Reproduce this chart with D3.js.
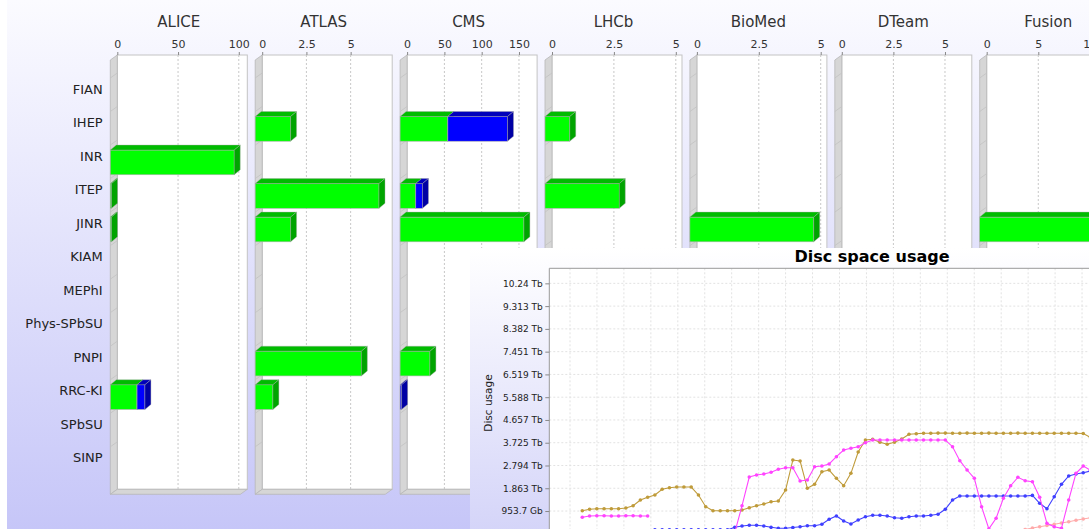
<!DOCTYPE html>
<html><head><meta charset="utf-8">
<script src="https://cdn.jsdelivr.net/npm/d3@7"></script>
<style>html,body{margin:0;padding:0;background:#fff;overflow:hidden}svg{display:block;font-family:"DejaVu Sans",sans-serif}</style>
</head><body><svg id="c" width="1089" height="529"></svg>
<script>
// ---------- Bar chart data ----------
const categories = ["FIAN","IHEP","INR","ITEP","JINR","KIAM","MEPhI","Phys-SPbSU","PNPI","RRC-KI","SPbSU","SINP"];
const vos = ["ALICE","ATLAS","CMS","LHCb","BioMed","DTeam","Fusion"];
const axisMax = [107, 7.35, 174.3, 5.25, 5.25, 6.3, 12.6];
const axisTicks = [[0,50,100],[0,2.5,5],[0,50,100,150],[0,2.5,5],[0,2.5,5],[0,2.5,5],[0,5,10]];
const aliceGreen  = [0,0,102,1,1,0,0,0,0,22,0,0];
const aliceBlue   = [0,0,0,0,0,0,0,0,0,6.5,0,0];
const atlasGreen  = [0,2,0,7,2,0,0,0,6,1,0,0];
const atlasBlue   = [0,0,0,0,0,0,0,0,0,0,0,0];
const cmsGreen    = [0,64,0,21,166,0,0,0,40,0,0,0];
const cmsBlue     = [0,80,0,9,0,0,0,0,0,2,0,0];
const lhcbGreen   = [0,1,0,3,0,0,0,0,0,0,0,0];
const lhcbBlue    = [0,0,0,0,0,0,0,0,0,0,0,0];
const biomedGreen = [0,0,0,0,5,0,0,0,0,0,0,0];
const biomedBlue  = [0,0,0,0,0,0,0,0,0,0,0,0];
const dteamGreen  = [0,0,0,0,0,0,0,0,0,0,0,0];
const dteamBlue   = [0,0,0,0,0,0,0,0,0,0,0,0];
const fusionGreen = [0,0,0,0,12,0,0,0,0,0,0,0];
const fusionBlue  = [0,0,0,0,0,0,0,0,0,0,0,0];
const greenByVo = [aliceGreen, atlasGreen, cmsGreen, lhcbGreen, biomedGreen, dteamGreen, fusionGreen];
const blueByVo  = [aliceBlue, atlasBlue, cmsBlue, lhcbBlue, biomedBlue, dteamBlue, fusionBlue];

// ---------- Line chart data (Tb) ----------
const lineTitle = "Disc space usage";
const yTickLabels = ["953.7 Gb","1.863 Tb","2.794 Tb","3.725 Tb","4.657 Tb","5.588 Tb","6.519 Tb","7.451 Tb","8.382 Tb","9.313 Tb","10.24 Tb"];
const goldSeries = [0.945,1.002,1.027,1.027,1.027,1.027,1.055,1.149,1.382,1.493,
  1.587,1.820,1.885,1.914,1.914,1.914,1.587,1.108,0.945,0.945,
  0.945,0.945,0.973,1.067,1.149,1.219,1.313,1.341,1.791,3.018,
  2.977,1.861,2.024,2.540,2.609,2.270,1.967,2.474,3.346,3.836,
  3.865,3.742,3.661,3.742,3.877,4.070,4.094,4.110,4.110,4.120,
  4.120,4.110,4.110,4.120,4.110,4.110,4.120,4.110,4.110,4.110,
  4.120,4.110,4.110,4.110,4.110,4.110,4.110,4.110,4.110,4.100,3.947];
const magentaSeries = [0.675,0.728,0.740,0.740,0.728,0.728,0.740,0.740,0.728,0.728,
  null,null,null,null,null,null,null,null,null,null,
  null,0.05,1.149,2.323,2.405,2.446,2.515,2.638,2.703,2.703,
  2.160,2.200,2.744,2.773,2.855,3.153,3.427,3.497,3.562,3.726,
  3.836,3.836,3.836,3.836,3.836,3.836,3.836,3.836,3.836,3.836,
  3.836,3.562,2.990,2.609,2.270,1.108,0.200,0.634,1.452,1.967,
  2.311,2.172,2.131,1.493,0.429,0.290,0.225,1.382,2.474,2.773,2.600];
const blueSeries = [null,null,null,null,null,null,null,null,null,null,
  0.16,0.16,0.16,0.16,0.16,0.16,0.16,0.16,0.16,0.16,
  0.16,0.266,0.320,0.348,0.348,0.319,0.266,0.225,0.225,0.258,
  0.290,0.331,0.331,0.389,0.593,0.728,0.524,0.401,0.564,0.699,
  0.757,0.757,0.728,0.658,0.634,0.699,0.728,0.728,0.757,0.798,
  1.002,1.382,1.546,1.546,1.546,1.546,1.546,1.546,1.546,1.546,
  1.546,1.546,1.570,1.247,1.027,1.517,2.025,2.364,2.446,2.499,2.568];
const salmonSeries = [null,null,null,null,null,null,null,null,null,null,
  null,null,null,null,null,null,null,null,null,null,
  null,null,null,null,null,null,null,null,null,null,
  null,null,null,null,null,null,null,null,null,null,
  null,null,null,null,null,null,null,null,null,null,
  null,null,null,null,null,null,null,null,null,null,
  0.120,0.176,0.237,0.290,0.340,0.388,0.442,0.495,0.552,0.605,0.660];
const seriesList = [
  {vals: salmonSeries, color: "#ffaaaa"},
  {vals: blueSeries, color: "#3f3fff"},
  {vals: goldSeries, color: "#bf9b3a"},
  {vals: magentaSeries, color: "#ff44ff"}
];

const svg = d3.select("#c");
const defs = svg.append("defs");
const bg = defs.append("linearGradient").attr("id","bgGrad").attr("gradientUnits","userSpaceOnUse")
  .attr("x1",0).attr("y1",0).attr("x2",0).attr("y2",529);
bg.append("stop").attr("offset",0).attr("stop-color","#fbfbff");
bg.append("stop").attr("offset",1).attr("stop-color","#c6c6f8");
const lg = defs.append("linearGradient").attr("id","lpGrad").attr("gradientUnits","userSpaceOnUse")
  .attr("x1",0).attr("y1",248).attr("x2",0).attr("y2",640);
lg.append("stop").attr("offset",0).attr("stop-color","#ffffff");
lg.append("stop").attr("offset",1).attr("stop-color","#c4c4f6");

svg.append("rect").attr("x",0).attr("y",0).attr("width",1089).attr("height",529).attr("fill","#fff");
svg.append("rect").attr("x",7).attr("y",0).attr("width",1082).attr("height",529).attr("fill","url(#bgGrad)");

// ---------- Bar chart ----------
const DX = 7, DY = 5, BDX = 6, TOP = 55, BOT = 489.3, W = 130, BAR_H = 24.7;
const panelX = d3.scaleBand().domain(vos).range([110.3, 110.3 + 6*144.9 + 137]).paddingInner(0.0545).paddingOuter(0);
const yCat = d3.scalePoint().domain(categories).range([89, 457.8]);

svg.append("g").selectAll("text").data(categories).join("text")
  .attr("x", 102.7).attr("y", d => yCat(d)).attr("dy","0.36em")
  .attr("text-anchor","end").attr("font-size",13).attr("fill","#222").text(d => d);

const poly = pts => pts.map(p => p.join(",")).join(" ");

function drawBar(g, x0, x1, yTop, cols) {
  g.append("rect").attr("x",x0).attr("y",yTop).attr("width",Math.max(x1-x0,0.8)).attr("height",BAR_H)
    .attr("fill",cols[0]).attr("stroke","#b0b0b0").attr("stroke-width",0.6);
  g.append("polygon").attr("points",poly([[x0,yTop],[x0+BDX,yTop-DY],[x1+BDX,yTop-DY],[x1,yTop]]))
    .attr("fill",cols[1]).attr("stroke","#a8a8a8").attr("stroke-width",0.4);
  g.append("polygon").attr("points",poly([[x1,yTop],[x1+BDX,yTop-DY],[x1+BDX,yTop-DY+BAR_H],[x1,yTop+BAR_H]]))
    .attr("fill",cols[2]).attr("stroke","#a8a8a8").attr("stroke-width",0.4);
}

vos.forEach((vo,k) => {
  const fx = panelX(vo), bx = fx + DX;
  const xs = d3.scaleLinear().domain([0, axisMax[k]]).range([0, W]);
  const g = svg.append("g");
  g.append("rect").attr("x",bx).attr("y",TOP).attr("width",W).attr("height",BOT-TOP)
    .attr("fill","#fff").attr("stroke","#c4c4c4");
  g.selectAll("line.grid").data(axisTicks[k].filter(t => t > 0)).join("line").attr("class","grid")
    .attr("x1",t => bx + xs(t)).attr("x2",t => bx + xs(t)).attr("y1",TOP).attr("y2",BOT)
    .attr("stroke","#c8c8c8").attr("stroke-dasharray","2,2");
  g.append("polygon").attr("points",poly([[fx,TOP+DY],[bx,TOP],[bx,BOT],[fx,BOT+DY]]))
    .attr("fill","#d6d6d6").attr("stroke","#b8b8b8").attr("stroke-width",0.8);
  g.append("polygon").attr("points",poly([[fx,BOT+DY],[bx,BOT],[bx+W,BOT],[fx+W,BOT+DY]]))
    .attr("fill","#d6d6d6").attr("stroke","#b8b8b8").attr("stroke-width",0.8);
  // faint category marks on the wall
  g.selectAll("line.wm").data(categories).join("line").attr("class","wm")
    .attr("x1",fx).attr("x2",bx).attr("y1",d => yCat(d) - 16 + DY).attr("y2",d => yCat(d) - 16)
    .attr("stroke","#c2c2c2").attr("stroke-width",0.8);
  const ax = g.append("g").attr("transform",`translate(${bx},${TOP})`)
    .call(d3.axisTop(xs).tickValues(axisTicks[k]).tickFormat(d3.format("~g")).tickSize(3).tickPadding(4.5));
  ax.select(".domain").remove();
  ax.selectAll("line").attr("stroke","#888");
  ax.selectAll("text").attr("font-size",11).attr("fill","#333").attr("font-family","DejaVu Sans");
  g.append("text").attr("x",(fx + bx + W)/2).attr("y",26.7).attr("text-anchor","middle")
    .attr("font-size",15).attr("fill","#333").text(vo);
  categories.forEach((c,i) => {
    const yTop = yCat(c) - 6;
    const gv = greenByVo[k][i], bv = blueByVo[k][i];
    if (gv > 0) drawBar(g, fx, fx + xs(gv), yTop, ["#00ff00","#00bb00","#00a400"]);
    if (bv > 0) drawBar(g, fx + xs(gv), fx + xs(gv + bv), yTop, ["#0000ff","#0000bb","#0000a4"]);
  });
});

// ---------- Line chart panel ----------
const LP = {x:470, y:248}, PL = 549.3, PT = 268.3;
svg.append("rect").attr("x",LP.x).attr("y",LP.y).attr("width",700).attr("height",400).attr("fill","url(#lpGrad)");
svg.append("text").attr("x",872).attr("y",261.7).attr("text-anchor","middle")
  .attr("font-weight","bold").attr("font-size",16).attr("fill","#000").text(lineTitle);
svg.append("rect").attr("x",PL).attr("y",PT).attr("width",700).attr("height",300).attr("fill","#fff");

const tickVals = yTickLabels.map((d,i) => (i+1) * 0.931323);
const yLin = d3.scaleLinear().domain([0, 10.86]).range([533.8, PT]);
const xLin = d3.scaleLinear().domain([0, 70]).range([582.3, 1090.5]);
const gridIdx = d3.range(-1.694, 75, 3.712);

defs.append("clipPath").attr("id","plotClip").append("rect").attr("x",PL).attr("y",PT).attr("width",700).attr("height",300);
const pg = svg.append("g").attr("clip-path","url(#plotClip)");
pg.selectAll("line.hg").data(tickVals).join("line").attr("class","hg")
  .attr("x1",PL).attr("x2",1200).attr("y1",d => yLin(d)).attr("y2",d => yLin(d))
  .attr("stroke","#e2e2e2").attr("stroke-dasharray","2,2");
pg.selectAll("line.vg").data(gridIdx).join("line").attr("class","vg")
  .attr("x1",d => xLin(d)).attr("x2",d => xLin(d)).attr("y1",PT).attr("y2",560)
  .attr("stroke","#e2e2e2").attr("stroke-dasharray","2,2");

const line = d3.line().defined(d => d != null).x((d,i) => xLin(i)).y(d => yLin(d));
seriesList.forEach(s => {
  pg.append("path").attr("d", line(s.vals)).attr("fill","none").attr("stroke",s.color).attr("stroke-width",1.1);
  pg.selectAll(null).data(s.vals.map((v,i) => ({v,i})).filter(d => d.v != null)).join("circle")
    .attr("cx",d => xLin(d.i)).attr("cy",d => yLin(d.v)).attr("r",1.8).attr("fill",s.color);
});

svg.append("line").attr("x1",PL).attr("x2",1200).attr("y1",PT).attr("y2",PT).attr("stroke","#999");
const yAx = svg.append("g").attr("transform",`translate(${PL},0)`)
  .call(d3.axisLeft(yLin).tickValues(tickVals).tickFormat((d,i) => yTickLabels[i]).tickSize(4).tickPadding(2.5));
yAx.select(".domain").attr("d",`M0,${PT}V560`).attr("stroke","#999");
yAx.selectAll("line").attr("stroke","#888");
yAx.selectAll("text").attr("font-size",9).attr("fill","#222").attr("font-family","DejaVu Sans");

svg.append("text").attr("transform","translate(492,403) rotate(-90)").attr("text-anchor","middle")
  .attr("font-size",10.5).attr("fill","#222").text("Disc usage");
</script></body></html>
